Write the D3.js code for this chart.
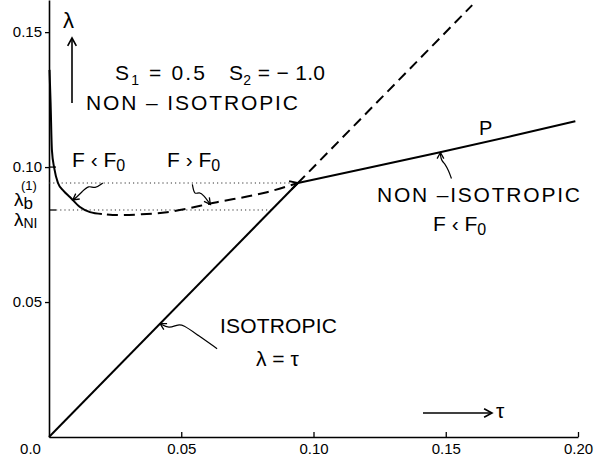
<!DOCTYPE html>
<html>
  <head>
    <title>Phase diagram</title>
    <script src="https://d3js.org/d3.v7.min.js"></script>
    <style>
      body { margin: 0; background: white; }
      text { font-family: "Liberation Sans", Arial, sans-serif; fill: black; }
      .tick text { font-size: 15px; font-family: "Liberation Sans", Arial, sans-serif; }
    </style>
  </head>
  <body>
    <script>
      // tick labels
      const tauTicks = [0, 0.05, 0.10, 0.15, 0.20];
      const lambdaTicks = [0.05, 0.10, 0.15];

      // isotropic line lambda = tau (solid up to the crossing, dashed beyond)
      const isoTau = [0, 0.0941, 0.160];
      const isoLambda = [0, 0.0941, 0.160];

      // left non-isotropic branch (solid part, then dashed part F > F0)
      const leftTau = [0.0002, 0.0006, 0.0011, 0.002, 0.0034, 0.0055, 0.0079, 0.0117, 0.0155, 0.020,
                       0.027, 0.035, 0.0446, 0.0635, 0.0824, 0.0941];
      const leftLambda = [0.136, 0.124, 0.1063, 0.0995, 0.0941, 0.0912, 0.0889, 0.0852, 0.0833, 0.0826,
                          0.0822, 0.0825, 0.0833, 0.0870, 0.0907, 0.0941];
      const leftSolidEnd = 9;

      // right non-isotropic branch P
      const rightTau = [0.0941, 0.120, 0.147, 0.175, 0.199];
      const rightLambda = [0.0941, 0.0996, 0.1053, 0.1115, 0.117];

      const lambdaB = 0.0941, lambdaNI = 0.0841;

      let width = 599, height = 460;

      let svg = d3.select("body").append("svg")
                  .attr("width", width)
                  .attr("height", height);

      let x = d3.scaleLinear().domain([0, 0.2]).range([49, 578]);
      let y = d3.scaleLinear().domain([0, 0.1619]).range([437, 0]);

      // axes
      let xAxis = svg.append("g").attr("transform", `translate(0, ${y(0)})`)
                     .call(d3.axisBottom(x).tickValues(tauTicks).tickSizeInner(-5).tickSizeOuter(0)
                           .tickPadding(6).tickFormat(d => d === 0 ? "0.0" : d3.format(".2f")(d)));
      xAxis.select(".domain").attr("stroke-width", 1.6);
      xAxis.selectAll(".tick line").attr("stroke-width", 1.3).filter(d => d === 0).remove();
      xAxis.selectAll(".tick text").filter(d => d === 0).attr("dx", -19);

      let yAxis = svg.append("g").attr("transform", `translate(${x(0)}, 0)`)
                     .call(d3.axisLeft(y).tickValues(lambdaTicks).tickSizeInner(4).tickSizeOuter(0)
                           .tickPadding(3).tickFormat(d3.format(".2f")));
      yAxis.select(".domain").attr("stroke-width", 1.6);
      yAxis.selectAll(".tick line").attr("stroke-width", 1.3);
      yAxis.selectAll(".tick text").attr("dy", "0.3em");

      // inner ticks at 0.10 and lambda_NI
      [0.10, lambdaNI].forEach(v => {
        svg.append("line").attr("x1", x(0)).attr("x2", x(0) + 7)
           .attr("y1", y(v)).attr("y2", y(v))
           .attr("stroke", "black").attr("stroke-width", 1.3);
      });

      // dotted guide lines
      svg.append("line").attr("x1", x(0)).attr("x2", x(lambdaB) - 6)
         .attr("y1", y(lambdaB)).attr("y2", y(lambdaB))
         .attr("stroke", "#333").attr("stroke-width", 1).attr("stroke-dasharray", "1.2,3");
      svg.append("line").attr("x1", x(0) + 7).attr("x2", x(lambdaNI))
         .attr("y1", y(lambdaNI)).attr("y2", y(lambdaNI))
         .attr("stroke", "#333").attr("stroke-width", 1).attr("stroke-dasharray", "1.2,3");

      let line = d3.line().x(d => x(d[0])).y(d => y(d[1]));
      let smooth = d3.line().x(d => x(d[0])).y(d => y(d[1])).curve(d3.curveMonotoneX);

      let iso = isoTau.map((t, i) => [t, isoLambda[i]]);
      svg.append("path").attr("d", line(iso.slice(0, 2)))
         .attr("fill", "none").attr("stroke", "black").attr("stroke-width", 2);
      svg.append("path").attr("d", line(iso.slice(1)))
         .attr("fill", "none").attr("stroke", "black").attr("stroke-width", 2)
         .attr("stroke-dasharray", "10,6");

      let left = leftTau.map((t, i) => [t, leftLambda[i]]);
      svg.append("path").attr("d", smooth(left.slice(0, leftSolidEnd + 1)))
         .attr("fill", "none").attr("stroke", "black").attr("stroke-width", 2);
      svg.append("path").attr("d", smooth(left.slice(leftSolidEnd)))
         .attr("fill", "none").attr("stroke", "black").attr("stroke-width", 2)
         .attr("stroke-dasharray", "11,6").attr("stroke-dashoffset", -5);

      let right = rightTau.map((t, i) => [t, rightLambda[i]]);
      svg.append("path").attr("d", smooth(right))
         .attr("fill", "none").attr("stroke", "black").attr("stroke-width", 2);

      // open arrow head at tip, coming from point "from"
      function head(tip, from, len, w) {
        let a = Math.atan2(tip[1] - from[1], tip[0] - from[0]);
        let p1 = [tip[0] - len * Math.cos(a - 0.5), tip[1] - len * Math.sin(a - 0.5)];
        let p2 = [tip[0] - len * Math.cos(a + 0.5), tip[1] - len * Math.sin(a + 0.5)];
        svg.append("path").attr("d", `M${p1}L${tip}L${p2}`)
           .attr("fill", "none").attr("stroke", "black").attr("stroke-width", w || 1.6);
      }

      // arrow head of dashed branch at the crossing
      let n = left.length;
      head([x(left[n - 1][0]), y(left[n - 1][1])], [x(left[n - 2][0]), y(left[n - 2][1])], 9, 2);

      // wavy pointer arrows, offsets relative to the tip on the curve
      function squiggle(tip, offs) {
        let pts = offs.map(o => [tip[0] + o[0], tip[1] + o[1]]);
        svg.append("path").attr("d", d3.line().curve(d3.curveBasis)(pts))
           .attr("fill", "none").attr("stroke", "black").attr("stroke-width", 1.2);
        head(tip, pts[pts.length - 2], 7, 1.3);
      }
      squiggle([x(0.009), y(0.0878)], [[30, -17], [22, -11], [16, -15], [9, -8], [4, -3], [0, 0]]);
      squiggle([x(0.061), y(0.0862)], [[-18, -20], [-16, -9], [-11, -13], [-6, -8], [-3, -4], [0, 0]]);
      squiggle([x(0.148), y(0.1054)], [[11, 26], [8, 18], [5, 12], [1, 8], [0, 3], [0, 0]]);
      squiggle([x(0.042), y(0.042)], [[57, 25], [37, 11], [23, 1], [17, 1], [9, 5], [0, 0]]);

      // lambda arrow and tau arrow
      svg.append("line").attr("x1", 72).attr("x2", 72).attr("y1", 103).attr("y2", 38)
         .attr("stroke", "black").attr("stroke-width", 1.6);
      head([72, 38], [72, 60], 9, 1.6);
      svg.append("line").attr("x1", 423).attr("x2", 492).attr("y1", 413).attr("y2", 413)
         .attr("stroke", "black").attr("stroke-width", 1.6);
      head([492, 413], [470, 413], 9, 1.6);

      // labels
      function label(tx, ty, parts, size, len) {
        let t = svg.append("text").attr("x", tx).attr("y", ty).style("font-size", size + "px");
        if (len) t.attr("textLength", len).attr("lengthAdjust", "spacing");
        parts.forEach(p => {
          let s = t.append("tspan").text(p[0]);
          if (p[1]) s.attr("dy", p[1]);
          if (p[2]) s.style("font-size", p[2] + "px");
        });
        return t;
      }
      label(63, 28, [["λ"]], 22);
      label(115, 80, [["S"], ["1", 5, 14], ["  = 0.5", -5]], 21, 90);
      label(229, 80, [["S"], ["2", 5, 14], ["  = \u2212 1.0", -5]], 21, 96);
      label(86, 110, [["NON – ISOTROPIC"]], 21, 212);
      label(72, 167, [["F ‹ F"], ["0", 4, 16]], 21);
      label(167, 167, [["F › F"], ["0", 4, 16]], 21);
      label(21, 190, [["(1)"]], 13);
      label(14, 206, [["λ"], ["b", 3, 17]], 19);
      label(14, 226, [["λ"], ["NI", 2, 14]], 19);
      label(479, 135, [["P"]], 20);
      label(377, 202, [["NON –ISOTROPIC"]], 21, 203);
      label(433, 231, [["F ‹ F"], ["0", 4, 16]], 21);
      label(220, 333, [["ISOTROPIC"]], 21, 117);
      label(256, 366, [["λ = τ"]], 21);
      label(496, 418, [["τ"]], 21);
    </script>
  </body>
</html>
